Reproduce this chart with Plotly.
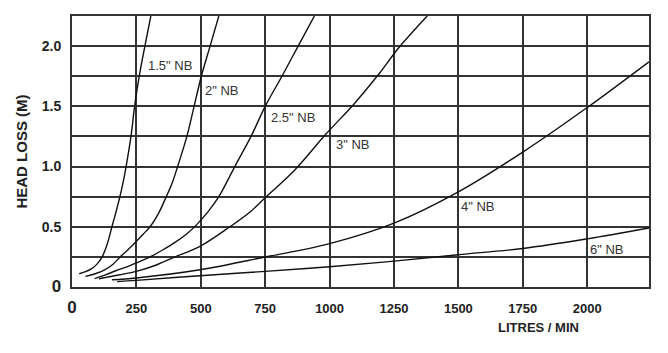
import plotly.graph_objects as go

# Flow (litres/min) and head loss (m)
x_15 = [28, 50, 75, 97, 117, 136, 155, 171, 186, 199, 210, 229, 243, 261, 283, 306]
y_15 = [0.11, 0.125, 0.15, 0.19, 0.25, 0.35, 0.5, 0.625, 0.75, 0.875, 1.0, 1.25, 1.5, 1.75, 2.0, 2.25]

x_20 = [52, 90, 125, 157, 187, 220, 250, 277, 303, 338, 366, 390, 410, 446, 474, 502, 536, 570]
y_20 = [0.088, 0.11, 0.14, 0.185, 0.25, 0.315, 0.38, 0.44, 0.5, 0.62, 0.75, 0.87, 1.0, 1.25, 1.5, 1.75, 2.0, 2.25]

x_25 = [88, 130, 170, 210, 250, 303, 350, 400, 445, 485, 530, 570, 632, 695, 750, 815, 878, 941]
y_25 = [0.07, 0.1, 0.135, 0.165, 0.2, 0.25, 0.305, 0.37, 0.44, 0.52, 0.63, 0.75, 1.0, 1.25, 1.5, 1.75, 2.0, 2.25]

x_30 = [105, 180, 250, 330, 400, 497, 613, 690, 754, 864, 986, 1095, 1192, 1270, 1379]
y_30 = [0.068, 0.1, 0.13, 0.185, 0.25, 0.337, 0.5, 0.62, 0.75, 0.97, 1.27, 1.52, 1.77, 1.99, 2.25]

x_40 = [155, 250, 497, 750, 1000, 1250, 1500, 1750, 2000, 2240]
y_40 = [0.06, 0.075, 0.143, 0.249, 0.36, 0.53, 0.79, 1.12, 1.49, 1.87]

x_60 = [175, 250, 497, 750, 1000, 1250, 1500, 1750, 2000, 2240]
y_60 = [0.045, 0.055, 0.094, 0.13, 0.168, 0.215, 0.268, 0.32, 0.40, 0.49]

series = [
    ('1.5" NB', x_15, y_15, 288, 1.84),
    ('2" NB', x_20, y_20, 509, 1.635),
    ('2.5" NB', x_25, y_25, 763, 1.41),
    ('3" NB', x_30, y_30, 1019, 1.18),
    ('4" NB', x_40, y_40, 1502, 0.67),
    ('6" NB', x_60, y_60, 2004, 0.31),
]

x_ticks = [0, 250, 500, 750, 1000, 1250, 1500, 1750, 2000]
x_ticktext = ["<span style='font-size:17px'>0</span>"] + [str(v) for v in x_ticks[1:]]
y_ticks = [0, 0.5, 1.0, 1.5, 2.0]
y_ticktext = ["<span style='font-size:17px'>0</span>", "0.5", "1.0", "1.5", "2.0"]

FONT = "Liberation Sans, Arial, Helvetica, sans-serif"
TXT = "#222222"

fig = go.Figure()
for name, xs, ys, lx, ly in series:
    fig.add_trace(go.Scatter(x=xs, y=ys, mode="lines", name=name,
                             line=dict(color="#111111", width=1.4, shape="spline", smoothing=1.0),
                             hoverinfo="skip", showlegend=False))
    fig.add_annotation(x=lx, y=ly, text=name, showarrow=False, xanchor="left", yanchor="middle",
                       font=dict(family=FONT, size=13, color="#333333"))

fig.add_annotation(xref="paper", yref="paper", x=0.809, y=-0.15, text="<b>LITRES / MIN</b>",
                   showarrow=False, xanchor="center", yanchor="middle",
                   font=dict(family=FONT, size=13, color=TXT))

fig.update_layout(
    width=668, height=353,
    margin=dict(l=72, r=19, t=16, b=66),
    paper_bgcolor="white", plot_bgcolor="white",
    font=dict(family=FONT, color=TXT),
)
fig.update_xaxes(range=[0, 2240], tickmode="array", tickvals=x_ticks, ticktext=x_ticktext,
                 showgrid=True, gridcolor="#333333", gridwidth=1.7,
                 showline=True, linecolor="#333333", linewidth=2, mirror=True,
                 zeroline=False, ticks="", ticklabelstandoff=8,
                 tickfont=dict(family=FONT, size=13, color=TXT, weight="bold"))
fig.update_yaxes(range=[0, 2.25], tickmode="array", tickvals=y_ticks, ticktext=y_ticktext,
                 showgrid=True, gridcolor="#333333", gridwidth=1.7,
                 minor=dict(dtick=0.25, showgrid=True, gridcolor="#333333", gridwidth=1.7),
                 showline=True, linecolor="#333333", linewidth=2, mirror=True,
                 zeroline=False, ticks="", ticklabelstandoff=6,
                 title=dict(text="<b>HEAD LOSS (M)</b>", standoff=10,
                            font=dict(family=FONT, size=15, color=TXT)),
                 tickfont=dict(family=FONT, size=14, color=TXT, weight="bold"))

fig.write_html("out.html")
